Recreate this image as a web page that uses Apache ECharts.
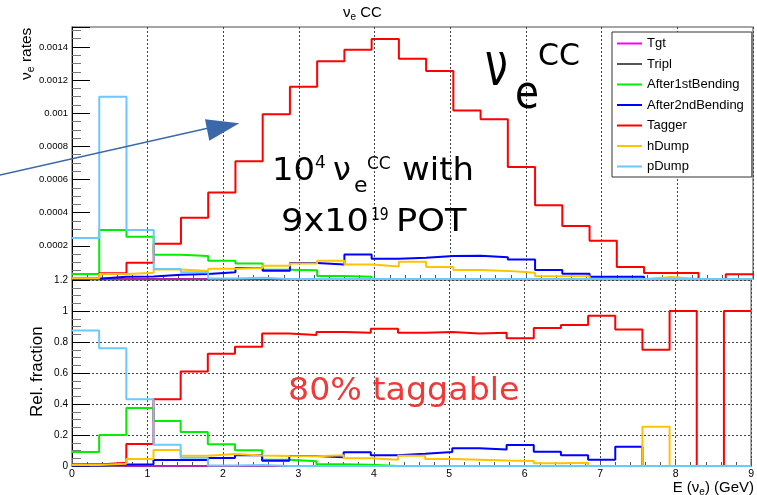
<!DOCTYPE html>
<html><head><meta charset="utf-8">
<script src="https://cdn.jsdelivr.net/npm/echarts@6/dist/echarts.min.js"></script>
<style>html,body{margin:0;padding:0;background:#fff}#c{width:757px;height:495px}</style>
</head><body><div id="c"></div>
<script>
// ---------- data ----------
const binEdges = [0,0.36,0.72,1.08,1.44,1.8,2.16,2.52,2.88,3.24,3.6,3.96,4.32,4.68,5.04,5.4,5.76,6.12,6.48,6.84,7.2,7.56,7.92,8.28,8.64,9];
const seriesNames = ['Tgt','Tripl','After1stBending','After2ndBending','Tagger','hDump','pDump'];
const seriesColors = ['#ff00ff','#555555','#00ee00','#0000ff','#ff0000','#ffc400','#6cc8ff'];

// upper panel: nu_e rates per bin
const rateTgt     = [0.000003,0,0,0,0,0,0,0,0,0,0,0,0,0,0,0,0,0,0,0,0,0,0,0,0];
const rateTripl   = [0,0,0,0,0,0,0,0,0,0,0,0,0,0,0,0,0,0,0,0,0,0,0,0,0];
const rateAfter1st= [0.00003,0.000295,0.000255,0.000146,0.000138,0.00011,0.000094,0.000056,0.000053,0.000018,0.000013,0,0,0,0,0,0,0,0,0,0,0,0,0,0];
const rateAfter2nd= [0.000002,0.000013,0.000015,0.000025,0.00003,0.00004,0.000066,0.00005,0.000096,0.000088,0.000148,0.000122,0.000128,0.000138,0.00014,0.000131,0.000118,0.000054,0.000032,0.000013,0.000013,0,0,0,0];
const rateTagger  = [0.000003,0.000035,0.0000985,0.000212,0.000369,0.000522,0.00071,0.000993,0.00116,0.001314,0.001383,0.001447,0.001329,0.001254,0.001016,0.000963,0.000676,0.000445,0.00032,0.00023,0.000073,0.000036,0.000036,0,0.000028];
const rateHDump   = [0.000005,0.00003,0.000037,0.000058,0.000048,0.000062,0.000066,0.00008,0.000094,0.00011,0.000088,0.000076,0.000104,0.000072,0.000054,0.000049,0.000037,0.000017,0.000017,0,0,0.000012,0,0,0];
const ratePDump   = [0.000248,0.0011,0.000295,0.00006,0.00004,0.000003,0.000008,0,0,0,0,0,0,0,0,0,0,0,0,0,0,0,0,0,0];

// lower panel: relative fraction per bin
const fracTgt     = [0.01,0,0,0,0,0,0,0,0,0,0,0,0,0,0,0,0,0,0,0,0,0,0,0,0];
const fracTripl   = [0,0,0,0,0,0,0,0,0,0,0,0,0,0,0,0,0,0,0,0,0,0,0,0,0];
const fracAfter1st= [0.09,0.2,0.375,0.29,0.22,0.14,0.102,0.04,0.03,0.012,0.008,0,0,0,0,0,0,0,0,0,0,0,0,0,0];
const fracAfter2nd= [0.003,0.01,0.011,0.039,0.039,0.052,0.069,0.034,0.064,0.056,0.088,0.07,0.079,0.09,0.114,0.107,0.135,0.092,0.07,0.04,0.125,0,0,0,0];
const fracTagger  = [0.01,0.021,0.142,0.43,0.61,0.725,0.77,0.855,0.845,0.865,0.86,0.885,0.86,0.865,0.855,0.86,0.825,0.89,0.91,0.97,0.88,0.75,1,0,1];
const fracHDump   = [0.006,0.015,0.045,0.103,0.066,0.077,0.068,0.064,0.063,0.07,0.05,0.04,0.066,0.045,0.04,0.035,0.032,0.017,0.021,0,0,0.253,0,0,0];
const fracPDump   = [0.875,0.76,0.43,0.137,0.054,0.004,0.006,0,0,0,0,0,0,0,0,0,0,0,0,0,0,0,0,0,0];

const rateSets = [rateTgt,rateTripl,rateAfter1st,rateAfter2nd,rateTagger,rateHDump,ratePDump];
const fracSets = [fracTgt,fracTripl,fracAfter1st,fracAfter2nd,fracTagger,fracHDump,fracPDump];

// ---------- helpers ----------
function steps(vals){
  const d = vals.map((v,i)=>[binEdges[i], v]);
  d.push([binEdges[vals.length], vals[vals.length-1]]);
  return d;
}
const mc = document.createElement('canvas').getContext('2d');
function midOff(size, fam){
  mc.font = size+'px "'+fam+'"';
  mc.textBaseline='alphabetic'; const a = mc.measureText('H').actualBoundingBoxAscent;
  mc.textBaseline='middle'; const m = mc.measureText('H').actualBoundingBoxAscent;
  return a - m;
}
function tw(t,size,fam){ mc.font = size+'px "'+fam+'"'; mc.textBaseline='alphabetic'; return mc.measureText(t).width; }
function run(x0, base, pieces, fam, color){
  let x = x0; const out = [];
  for (const p of pieces){
    const px = (p.x !== undefined) ? p.x : x;
    const b = base + (p.dy || 0);
    const sx = p.sx || 1;
    out.push({type:'text', x:px, y:b - midOff(p.s, fam), scaleX:sx, z:100,
      style:{text:p.t, fontSize:p.s, fontFamily:fam, fill:p.c || color, align:'left', verticalAlign:'middle'}});
    x = px + tw(p.t, p.s, fam) * sx;
  }
  return out;
}

const AX = 'Liberation Sans';
const AN = 'DejaVu Sans';
const lineIcon = 'path://M0,0 L0.01,0 L0,0.01 Z M0,13 L0.01,13 L0,12.99 Z M0,5.6 L25,5.6 L25,7.6 L0,7.6 Z';

const series = [];
seriesNames.forEach((n,i)=>{
  const lw = n === 'Tripl' ? 1.2 : 2;
  series.push({name:n, type:'line', step:'end', xAxisIndex:0, yAxisIndex:0, data:steps(rateSets[i]),
    symbol:'none', clip:false, silent:true, lineStyle:{color:seriesColors[i], width:lw}, itemStyle:{color:seriesColors[i]}});
  series.push({name:n, type:'line', step:'end', xAxisIndex:1, yAxisIndex:1, data:steps(fracSets[i]),
    symbol:'none', clip:false, silent:true, lineStyle:{color:seriesColors[i], width:lw}, itemStyle:{color:seriesColors[i]}});
});

const dotted = {color:'#444', type:[2,2], width:1};
function xAx(gi, showLabels){
  return {gridIndex:gi, type:'value', min:0, max:9, interval:1,
    axisLine:{show:true, onZero:false, lineStyle:{color:'#888', width:1.5}},
    axisTick:{show:true, inside:true, length:7, lineStyle:{color:'#555'}},
    minorTick:{show:true, splitNumber:5, length:4, lineStyle:{color:'#555'}},
    splitLine:{show:true, lineStyle:dotted},
    axisLabel:{show:showLabels, margin:3, fontSize:10.5, fontFamily:AX, color:'#000'}};
}
const yTop = {gridIndex:0, type:'value', min:0, max:0.00152, interval:0.0002,
  axisLine:{show:true, lineStyle:{color:'#000', width:1}},
  axisTick:{show:true, inside:true, length:18, lineStyle:{color:'#000'}},
  minorTick:{show:true, splitNumber:4, length:9, lineStyle:{color:'#777'}},
  splitLine:{show:false},
  axisLabel:{margin:4, fontSize:9.5, fontFamily:AX, color:'#000',
    formatter:v=>{ const k=v/0.0002; return (v>0 && Math.abs(k-Math.round(k))<1e-6) ? String(+v.toFixed(4)) : ''; }}};
const yBot = {gridIndex:1, type:'value', min:0, max:1.2, interval:0.2,
  axisLine:{show:true, lineStyle:{color:'#000', width:1}},
  axisTick:{show:true, inside:true, length:18, lineStyle:{color:'#000'}},
  minorTick:{show:true, splitNumber:4, length:9, lineStyle:{color:'#777'}},
  splitLine:{show:true, lineStyle:dotted},
  axisLabel:{margin:4, fontSize:10, fontFamily:AX, color:'#000', formatter:v=>String(+v.toFixed(1))}};

const graphics = [].concat(
  run(343, 16.7, [{t:'ν',s:15},{t:'e',s:10,dy:3.5},{t:' CC',s:15}], AX, '#000'),
  run(672.7, 491.7, [{t:'E (ν',s:15},{t:'e',s:10,dy:3},{t:') (GeV)',s:15}], AX, '#000'),
  [{type:'group', x:30.5, y:80, rotation:Math.PI/2, z:100,
    children: run(0, 0, [{t:'ν',s:15.5},{t:'e',s:10.5,dy:3.4},{t:' rates',s:15.5}], AX, '#000')}],
  [{type:'group', x:41.7, y:417, rotation:Math.PI/2, z:100,
    children: run(0, 0, [{t:'Rel. fraction',s:17}], AX, '#000')}],
  // annotations
  [{type:'line', z:100, shape:{x1:0, y1:175, x2:222, y2:125}, style:{stroke:'#3b68a8', lineWidth:1.3}},
   {type:'polygon', z:100, shape:{points:[[205,119.3],[239.3,123.3],[209.3,140.7]]}, style:{fill:'#3b68a8'}}],
  run(0, 180, [{t:'10',s:32,x:272,sx:1.06},{t:'4',s:17,dy:-11.6,x:315},{t:'ν',s:32,x:333},{t:'e',s:22,dy:12,x:354},{t:'CC',s:17,dy:-11,x:367},{t:'with',s:32,x:402,sx:1.06}], AN, '#000'),
  run(0, 230.7, [{t:'9x10',s:32,x:281,sx:1.1},{t:'19',s:17,dy:-11,x:371,sx:0.82},{t:'POT',s:32,x:396,sx:1.1}], AN, '#000'),
  run(0, 85, [{t:'ν',s:60,x:485,sx:0.68}], AN, '#000'),
  run(0, 108, [{t:'e',s:46,x:515,sx:0.85}], AN, '#000'),
  run(0, 65, [{t:'CC',s:30,x:538}], AN, '#000'),
  run(288, 400, [{t:'80% taggable',s:32,sx:1.04}], AN, '#ef3a3a')
);

const chart = echarts.init(document.getElementById('c'), null, {renderer:'canvas'});
chart.setOption({
  animation:false,
  backgroundColor:'#fff',
  grid:[
    {left:72, top:27, width:681, height:252, show:true, borderColor:'#888', borderWidth:1.5, backgroundColor:'transparent'},
    {left:72, top:280, width:681, height:186, show:true, borderColor:'#888', borderWidth:1.5, backgroundColor:'transparent'}
  ],
  xAxis:[xAx(0,false), xAx(1,true)],
  yAxis:[yTop, yBot],
  legend:{data:seriesNames, orient:'vertical', left:612, top:32, icon:lineIcon, itemWidth:25, itemHeight:14, itemGap:7.5,
    padding:[5,8,4,5], backgroundColor:'#fff', borderColor:'#333', borderWidth:1, borderRadius:0,
    selectedMode:false, textStyle:{fontSize:13, fontFamily:AX, color:'#000'}, z:50},
  series: series,
  graphic: graphics
});
</script>
</body></html>
